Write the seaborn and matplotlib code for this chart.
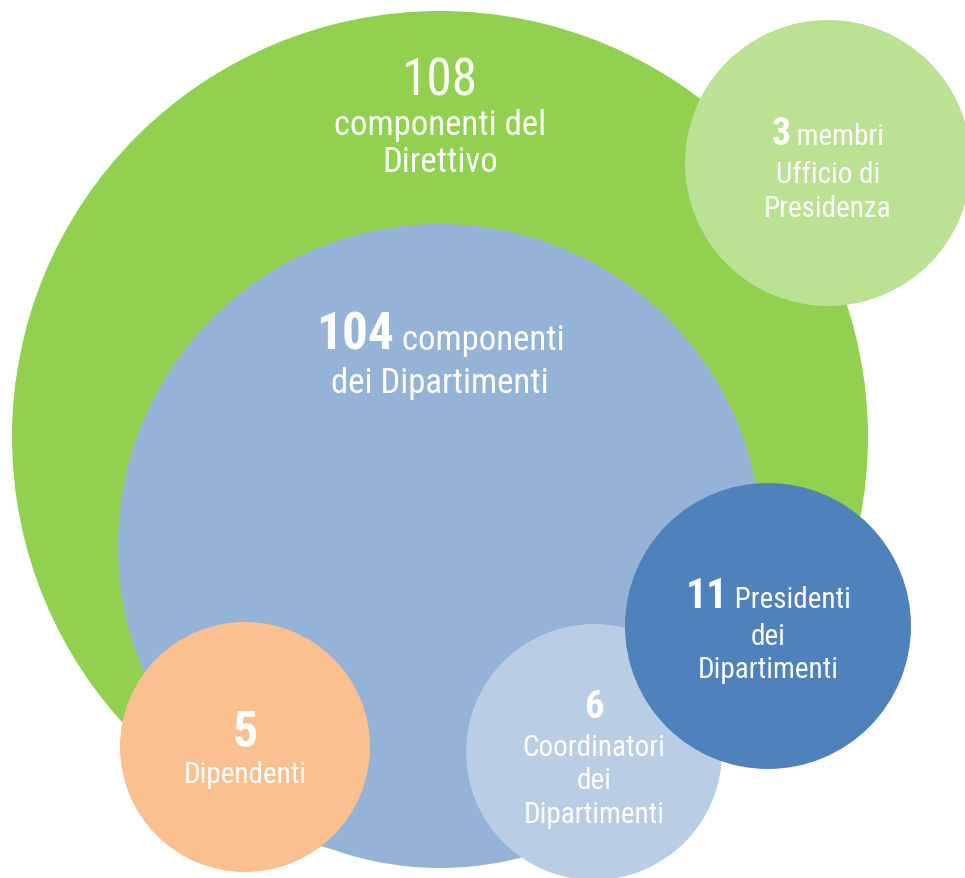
import matplotlib
matplotlib.use("Agg")
import matplotlib.pyplot as plt
from matplotlib.patches import Ellipse
import seaborn as sns

# ── Data ─────────────────────────────────────────────────────────────────────
groups  = ["direttivo", "presidenza", "dipartimenti", "dipendenti", "coordinatori", "presidenti"]
counts  = [108, 3, 104, 5, 6, 11]
# text after the number, one list item per line (first item sits next to the number
# when the number is inline, otherwise the number has its own line)
labels  = [["componenti del", "Direttivo"],
           ["membri", "Ufficio di", "Presidenza"],
           ["componenti", "dei Dipartimenti"],
           ["Dipendenti"],
           ["Coordinatori", "dei", "Dipartimenti"],
           ["Presidenti", "dei", "Dipartimenti"]]
inline  = [False, True, True, False, False, True]
bold_nr = [False, True, True, True, True, True]

# ── Layout (pixels, y down) ──────────────────────────────────────────────────
CX = [440, 828, 440, 245, 594, 768]
CY = [438, 164, 547, 748, 753, 627]
RX = [428, 143, 322, 125, 128, 143]
RY = [426, 143, 322, 125, 128, 143]
COLORS = ["#92D050", "#BBE192", "#95B3D7", "#FAC090", "#B9CDE5", "#4F81BD"]
# baselines of each text line
BASE = [[95, 135, 172],
        [145, 183, 217],
        [350, 393],
        [747, 783],
        [718, 756, 789, 823],
        [608, 645, 678]]
NUM_SIZE  = [37, 27, 37, 36, 28, 30]
TEXT_SIZE = [25, 21, 25, 21, 21, 21]

W, H = 965, 879

sns.set_theme(style="white")
plt.rcParams["font.family"] = ["Roboto Condensed", "Archivo Narrow", "Liberation Sans", "DejaVu Sans"]

fig = plt.figure(figsize=(W / 100, H / 100), dpi=100)
ax = fig.add_axes([0, 0, 1, 1])
ax.set_xlim(0, W)
ax.set_ylim(H, 0)
ax.set_aspect("equal")
ax.axis("off")

for cx, cy, rx, ry, c in zip(CX, CY, RX, RY, COLORS):
    ax.add_patch(Ellipse((cx, cy), 2 * rx, 2 * ry, facecolor=c, edgecolor="none"))

renderer = fig.canvas.get_renderer()


def width_of(t):
    return t.get_window_extent(renderer).width


for i in range(len(groups)):
    cx = CX[i]
    lines = labels[i]
    weight = "bold" if bold_nr[i] else "normal"
    kw = dict(color="white", va="baseline")
    if inline[i]:
        t1 = ax.text(0, BASE[i][0], str(counts[i]), fontsize=NUM_SIZE[i],
                     fontweight=weight, ha="left", **kw)
        t2 = ax.text(0, BASE[i][0], " " + lines[0], fontsize=TEXT_SIZE[i],
                     ha="left", **kw)
        w1, w2 = width_of(t1), width_of(t2)
        x0 = cx - (w1 + w2) / 2
        t1.set_x(x0)
        t2.set_x(x0 + w1)
        rest = lines[1:]
        ys = BASE[i][1:]
    else:
        ax.text(cx, BASE[i][0], str(counts[i]), fontsize=NUM_SIZE[i],
                fontweight=weight, ha="center", **kw)
        rest = lines
        ys = BASE[i][1:]
    for line, y in zip(rest, ys):
        ax.text(cx, y, line, fontsize=TEXT_SIZE[i], ha="center", **kw)

fig.savefig("out.png", dpi=100, facecolor="white")
